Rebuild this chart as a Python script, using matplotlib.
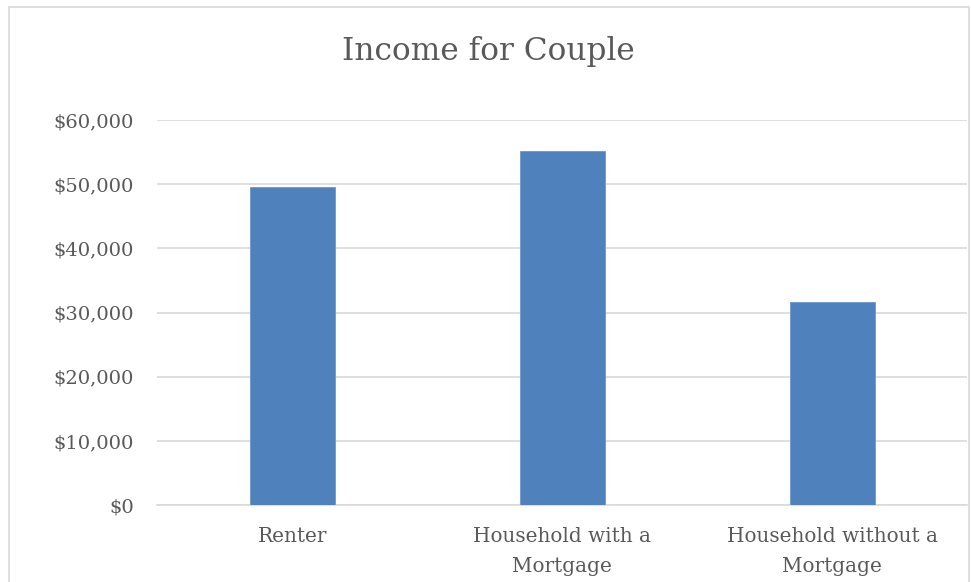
import matplotlib
matplotlib.use("Agg")
import matplotlib.pyplot as plt
from matplotlib.patches import Rectangle
from matplotlib.ticker import FuncFormatter

# values
categories = ["Renter", "Household with a\nMortgage", "Household without a\nMortgage"]
income = [49500, 55200, 31700]
yticks = [0, 10000, 20000, 30000, 40000, 50000, 60000]

text_col = "#595959"
grid_col = "#d9d9d9"
bar_col = "#4f81bd"

plt.rcParams["font.family"] = ["DejaVu Serif"]

fig = plt.figure(figsize=(9.71, 5.82), dpi=100)
ax = fig.add_axes([0.162, 0.132, 0.834, 0.662])

x = range(len(categories))
ax.bar(x, income, width=0.315, color=bar_col, edgecolor="#6f97cc", linewidth=0.6, zorder=3)

ax.set_xlim(-0.5, len(categories) - 0.5)
ax.set_ylim(0, 60000)
ax.set_yticks(yticks)
ax.yaxis.set_major_formatter(FuncFormatter(lambda v, p: "${:,.0f}".format(v)))
ax.set_xticks(list(x))
ax.set_xticklabels(categories, linespacing=1.75)

ax.grid(axis="y", color=grid_col, linewidth=1.2, zorder=0)
for s in ["top", "right", "left"]:
    ax.spines[s].set_visible(False)
ax.spines["bottom"].set_color(grid_col)
ax.spines["bottom"].set_linewidth(1.2)
ax.tick_params(axis="y", length=0, colors=text_col, labelsize=14, pad=17)
ax.tick_params(axis="x", length=0, colors=text_col, labelsize=14.4, pad=15.5)

fig.text(0.503, 0.912, "Income for Couple", ha="center", va="center",
         fontsize=22.5, color=text_col)

# chart border
fig.patches.append(Rectangle((0.009, -0.05), 0.989, 1.038, transform=fig.transFigure,
                             fill=False, edgecolor=grid_col, linewidth=1.2))

fig.savefig("out.png", dpi=100)
